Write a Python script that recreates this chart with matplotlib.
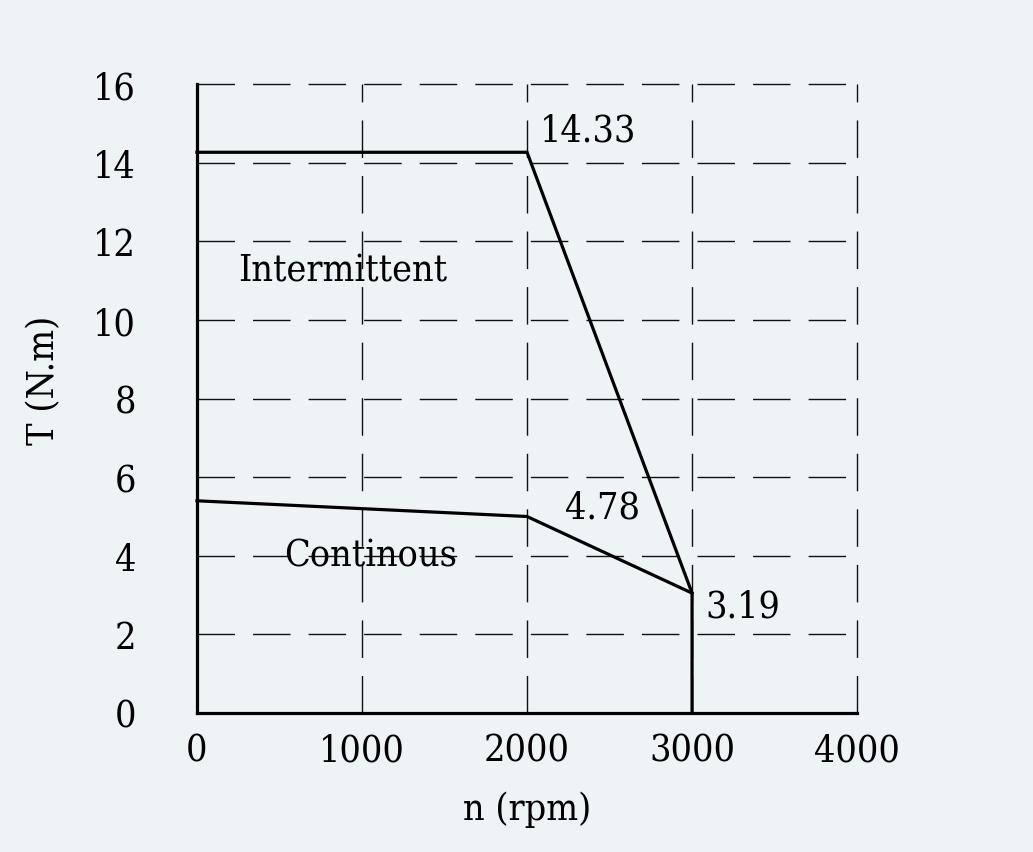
import matplotlib
matplotlib.use("Agg")
import matplotlib.pyplot as plt

speed = [0, 2000, 3000, 3000]
intermittent = [14.27, 14.27, 3.05, 0]
cont_speed = [0, 2000, 3000]
continuous = [5.4, 5.0, 3.05]
xticks = [0, 1000, 2000, 3000, 4000]
yticks = [0, 2, 4, 6, 8, 10, 12, 14, 16]

bg = "#eef3f6"
fam = "DejaVu Serif"
stretch = "condensed"
fs = 27

fig = plt.figure(figsize=(10.33, 8.53), dpi=100, facecolor=bg)
ax = fig.add_axes([0.1907, 0.163, 0.639, 0.737], facecolor=bg)

dash = (0, (27, 13))
for y in yticks[1:]:
    ax.axhline(y, color="#111111", lw=1.0, linestyle=dash, zorder=1, clip_on=False)
for x in xticks[1:]:
    ax.axvline(x, color="#111111", lw=1.0, linestyle=dash, zorder=1, clip_on=False)

ax.plot(speed, intermittent, color="black", lw=2.3, zorder=3, solid_joinstyle="miter", clip_on=False)
ax.plot(cont_speed, continuous, color="black", lw=2.3, zorder=3, clip_on=False)

ax.set_xlim(0, 4000)
ax.set_ylim(0, 16)
for s in ["top", "right"]:
    ax.spines[s].set_visible(False)
for s in ["left", "bottom"]:
    ax.spines[s].set_linewidth(2.3)
    ax.spines[s].set_zorder(4)
ax.set_xticks(xticks)
ax.set_yticks(yticks)
ax.tick_params(length=0)
ax.tick_params(axis="y", pad=44)
ax.tick_params(axis="x", pad=14)
for lab in ax.get_xticklabels() + ax.get_yticklabels():
    lab.set_family(fam)
    lab.set_fontstretch(stretch)
    lab.set_fontsize(fs)

tk = dict(family=fam, stretch=stretch, fontsize=fs)
ax.set_xlabel("n (rpm)", labelpad=16, **tk)
ax.set_ylabel("T (N.m)", **tk)
ax.yaxis.set_label_coords(-0.205, 0.53)

ax.text(2079, 14.83, "14.33", ha="left", va="center", **tk)
ax.text(880, 11.25, "Intermittent", ha="center", va="center", **tk)
ax.text(1050, 4.0, "Continous", ha="center", va="center", **tk)
ax.text(2460, 5.24, "4.78", ha="center", va="center", **tk)
ax.text(3079, 2.72, "3.19", ha="left", va="center", **tk)

fig.savefig("out.png", dpi=100, facecolor=bg)
